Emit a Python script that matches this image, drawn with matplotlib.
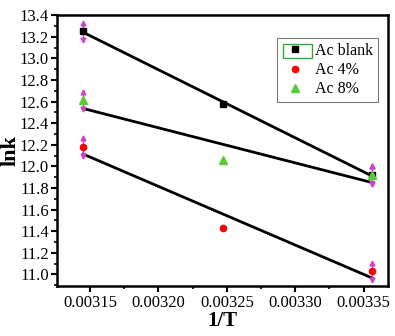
import matplotlib
matplotlib.use('Agg')
import matplotlib.pyplot as plt
import numpy as np
from matplotlib.patches import Rectangle
from matplotlib.ticker import MultipleLocator

plt.rcParams['font.family'] = ['Liberation Serif', 'DejaVu Serif']

inv_T = [0.003145, 0.003247, 0.003356]
lnk_blank = [13.25, 12.58, 11.92]
lnk_4 = [12.18, 11.43, 11.03]
lnk_8 = [12.61, 12.06, 11.92]
err = 0.08

fig = plt.figure(figsize=(3.95, 3.36), dpi=100)
ax = fig.add_axes([0.145, 0.148, 0.838, 0.807])

series = [
    (lnk_blank, 's', 'black', 'Ac blank', 4),
    (lnk_4, 'o', 'red', 'Ac 4%', 4.5),
    (lnk_8, '^', '#55cc33', 'Ac 8%', 5.5),
]

x = np.array(inv_T)
for y, mk, col, lab, ms in series:
    y = np.array(y)
    # linear fit line
    p = np.polyfit(x, y, 1)
    ax.plot([x[0], x[-1]], np.polyval(p, [x[0], x[-1]]), color='black', lw=2, zorder=2)
    # magenta error markers at end points
    for i in (0, -1):
        ax.plot([x[i], x[i]], [y[i] - err, y[i] + err], color='#cc44cc', lw=1, zorder=3)
        ax.plot(x[i], y[i] + err, marker='^', color='#cc44cc', ms=3.5, zorder=3)
        ax.plot(x[i], y[i] - err, marker='v', color='#cc44cc', ms=3.5, zorder=3)
    ax.plot(x, y, linestyle='none', marker=mk, color=col, ms=ms, label=lab, zorder=4)

ax.set_xlim(0.003126, 0.003368)
ax.set_ylim(10.89, 13.4)
ax.set_xticks([0.00315, 0.00320, 0.00325, 0.00330, 0.00335])
ax.set_xticklabels(['0.00315', '0.00320', '0.00325', '0.00330', '0.00335'])
ax.xaxis.set_minor_locator(MultipleLocator(0.000025))
ax.set_yticks(np.arange(11.0, 13.41, 0.2))
ax.set_yticklabels([f'{v:.1f}' for v in np.arange(11.0, 13.41, 0.2)])
ax.yaxis.set_minor_locator(MultipleLocator(0.1))

ax.tick_params(which='major', direction='out', length=4, width=1.5, labelsize=12, pad=2)
ax.tick_params(which='minor', direction='out', length=2.5, width=1.2)
for s in ax.spines.values():
    s.set_linewidth(1.8)

ax.set_xlabel('1/T', fontsize=15, fontweight='bold')
ax.xaxis.set_label_coords(0.5, -0.092)
ax.set_ylabel('lnk', fontsize=16, fontweight='bold')
ax.yaxis.set_label_coords(-0.112, 0.5)

leg = ax.legend(loc='upper right', bbox_to_anchor=(0.97, 0.915), fontsize=11.5,
                frameon=True, fancybox=False, handlelength=1.6, handletextpad=0.5,
                borderpad=0.3, labelspacing=0.2, borderaxespad=0)
leg.get_frame().set_edgecolor('#555555')
leg.get_frame().set_linewidth(0.8)

# green box drawn round the first legend marker, as in the original
fig.patches.append(Rectangle((283 / 395, 1 - 58 / 336), 29 / 395, 14 / 336,
                             transform=fig.transFigure, fill=False,
                             edgecolor='#33aa33', lw=1))

fig.savefig('out.png', dpi=100)
